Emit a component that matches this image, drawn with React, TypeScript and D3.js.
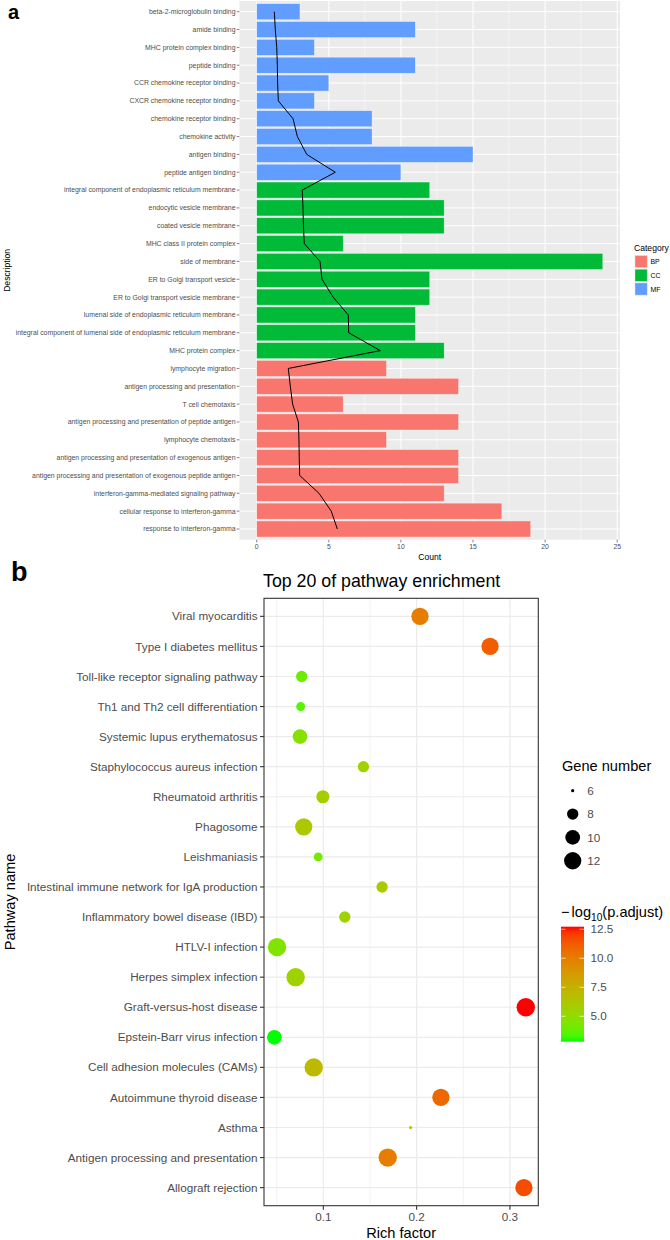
import React from 'react';
import * as d3 from 'd3';

// ---------- Panel a data ----------
const goTerms = [
  'beta-2-microglobulin binding',
  'amide binding',
  'MHC protein complex binding',
  'peptide binding',
  'CCR chemokine receptor binding',
  'CXCR chemokine receptor binding',
  'chemokine receptor binding',
  'chemokine activity',
  'antigen binding',
  'peptide antigen binding',
  'integral component of endoplasmic reticulum membrane',
  'endocytic vesicle membrane',
  'coated vesicle membrane',
  'MHC class II protein complex',
  'side of membrane',
  'ER to Golgi transport vesicle',
  'ER to Golgi transport vesicle membrane',
  'lumenal side of endoplasmic reticulum membrane',
  'integral component of lumenal side of endoplasmic reticulum membrane',
  'MHC protein complex',
  'lymphocyte migration',
  'antigen processing and presentation',
  'T cell chemotaxis',
  'antigen processing and presentation of peptide antigen',
  'lymphocyte chemotaxis',
  'antigen processing and presentation of exogenous antigen',
  'antigen processing and presentation of exogenous peptide antigen',
  'interferon-gamma-mediated signaling pathway',
  'cellular response to interferon-gamma',
  'response to interferon-gamma',
];
const goCategory = [
  'MF', 'MF', 'MF', 'MF', 'MF', 'MF', 'MF', 'MF', 'MF', 'MF',
  'CC', 'CC', 'CC', 'CC', 'CC', 'CC', 'CC', 'CC', 'CC', 'CC',
  'BP', 'BP', 'BP', 'BP', 'BP', 'BP', 'BP', 'BP', 'BP', 'BP',
];
const goCount = [3, 11, 4, 11, 5, 4, 8, 8, 15, 10, 12, 13, 13, 6, 24, 12, 12, 11, 11, 13, 9, 14, 6, 14, 9, 14, 14, 13, 17, 19];
const goTrend = [1.22, 1.29, 1.39, 1.43, 1.45, 1.5, 2.52, 2.82, 3.47, 5.45, 3.16, 3.21, 3.24, 3.3, 4.39, 4.53, 5.3, 6.35, 6.38, 8.57, 2.19, 2.33, 2.49, 2.89, 2.93, 2.95, 2.98, 4.32, 5.17, 5.59];
const countTicks = [0, 5, 10, 15, 20, 25];
const countMinor = [2.5, 7.5, 12.5, 17.5, 22.5];
const categoryLevels = ['BP', 'CC', 'MF'];
const categoryColors = ['#F8766D', '#00BA38', '#619CFF'];

// ---------- Panel b data ----------
const pathways = [
  'Viral myocarditis',
  'Type I diabetes mellitus',
  'Toll-like receptor signaling pathway',
  'Th1 and Th2 cell differentiation',
  'Systemic lupus erythematosus',
  'Staphylococcus aureus infection',
  'Rheumatoid arthritis',
  'Phagosome',
  'Leishmaniasis',
  'Intestinal immune network for IgA production',
  'Inflammatory bowel disease (IBD)',
  'HTLV-I infection',
  'Herpes simplex infection',
  'Graft-versus-host disease',
  'Epstein-Barr virus infection',
  'Cell adhesion molecules (CAMs)',
  'Autoimmune thyroid disease',
  'Asthma',
  'Antigen processing and presentation',
  'Allograft rejection',
];
const richFactor = [0.2036, 0.2787, 0.0768, 0.0757, 0.075, 0.143, 0.0995, 0.079, 0.0945, 0.163, 0.123, 0.0504, 0.0703, 0.317, 0.0475, 0.0897, 0.226, 0.1935, 0.169, 0.315];
const geneNumber = [12, 12, 8, 7, 10, 8, 9, 12, 7, 8, 8, 13, 13, 13, 10, 13, 12, 6, 13, 12];
const negLogPAdj = [10.0, 11.2, 4.0, 3.5, 4.7, 5.6, 5.8, 6.2, 4.2, 6.0, 5.5, 4.5, 5.6, 12.72, 2.81, 7.0, 10.8, 5.8, 10.0, 11.7];
const richTicks = [0.1, 0.2, 0.3];
const richMinor = [0.05, 0.15, 0.25];
const geneLegend = [6, 8, 10, 12];
const colorTicks = [5, 7.5, 10, 12.5];

const FONT = "'Liberation Sans', Arial, Helvetica, sans-serif";
const AXIS_TXT = '#4D4D4D';

export default function App() {
  // ----- Panel a scales -----
  const xA = d3.scaleLinear().domain([-1.2, 25.2]).range([239.4, 620.1]);
  const yA = d3.scalePoint<string>().domain(goTerms).range([1, 539.7]).padding(0.6);
  const stepA = yA.step();
  const barH = stepA * 0.9;
  const catColor = d3.scaleOrdinal<string, string>().domain(categoryLevels).range(categoryColors);
  const trendLine = d3
    .line<number>()
    .x((d) => xA(d))
    .y((_, i) => yA(goTerms[i]) as number);

  // ----- Panel b scales -----
  const xB = d3.scaleLinear().domain([0.0364, 0.3304]).range([264, 538.3]);
  const yB = d3.scalePoint<string>().domain(pathways).range([598.3, 1205.7]).padding(0.6);
  const pDomain: [number, number] = [2.81, 12.72];
  const colorB = d3
    .scaleLinear<string>()
    .domain(pDomain)
    .range(['#00FF00', '#FF0000'])
    .interpolate(d3.interpolateLab);
  const sizeT = d3.scaleLinear().domain([6, 13]).range([0, 1]).clamp(true);
  const radiusFromT = d3.scaleLinear().domain([0, 1]).range([1.6, 9.2]);
  const rOf = (g: number) => radiusFromT(Math.sqrt(sizeT(g)));
  const yC = d3.scaleLinear().domain(pDomain).range([1041.7, 926.7]);
  const gradStops = d3.range(0, 1.0001, 0.05);

  const panelBLeft = xB.range()[0];
  const panelBRight = xB.range()[1];
  const panelBTop = yB.range()[0];
  const panelBBottom = yB.range()[1];

  return (
    <svg
      width={670}
      height={1240}
      style={{ position: 'absolute', left: 0, top: 0, background: '#fff' }}
      fontFamily={FONT}
    >
      <defs>
        <linearGradient id="cbar" x1="0" y1="1" x2="0" y2="0">
          {gradStops.map((t) => (
            <stop
              key={t}
              offset={`${t * 100}%`}
              stopColor={colorB(pDomain[0] + t * (pDomain[1] - pDomain[0]))}
            />
          ))}
        </linearGradient>
      </defs>
      <rect x={0} y={0} width={670} height={1240} fill="#fff" />

      {/* ================= Panel a ================= */}
      <text x={8} y={18.8} fontSize={20} fontWeight="bold" fill="#000">a</text>
      <rect x={239.4} y={1} width={620.1 - 239.4} height={539.7 - 1} fill="#EBEBEB" />
      {countMinor.map((v) => (
        <line key={'mn' + v} x1={xA(v)} x2={xA(v)} y1={1} y2={539.7} stroke="#fff" strokeWidth={0.5} />
      ))}
      {countTicks.map((v) => (
        <line key={'mj' + v} x1={xA(v)} x2={xA(v)} y1={1} y2={539.7} stroke="#fff" strokeWidth={1} />
      ))}
      {goTerms.map((t) => (
        <line key={'hg' + t} x1={239.4} x2={620.1} y1={yA(t)} y2={yA(t)} stroke="#fff" strokeWidth={1} />
      ))}
      {goTerms.map((t, i) => (
        <rect
          key={'bar' + t}
          x={xA(0)}
          y={(yA(t) as number) - barH / 2}
          width={xA(goCount[i]) - xA(0)}
          height={barH}
          fill={catColor(goCategory[i])}
          stroke="#fff"
          strokeOpacity={0.6}
          strokeWidth={0.6}
        />
      ))}
      <path d={trendLine(goTrend) || ''} fill="none" stroke="#000" strokeWidth={1} />
      {/* y axis */}
      {goTerms.map((t) => (
        <g key={'yl' + t}>
          <line x1={236.7} x2={239.4} y1={yA(t)} y2={yA(t)} stroke="#333" strokeWidth={0.6} />
          <text x={235.5} y={(yA(t) as number) + 2.4} fontSize={6.9} textAnchor="end" fill={AXIS_TXT}>
            {t}
          </text>
        </g>
      ))}
      {/* x axis */}
      {countTicks.map((v) => (
        <g key={'xt' + v}>
          <line x1={xA(v)} x2={xA(v)} y1={539.7} y2={542.4} stroke="#333" strokeWidth={0.6} />
          <text x={xA(v)} y={549} fontSize={6.9} textAnchor="middle" fill={AXIS_TXT}>
            {v}
          </text>
        </g>
      ))}
      <text x={(239.4 + 620.1) / 2} y={559.5} fontSize={8.6} textAnchor="middle" fill="#000">
        Count
      </text>
      <text
        transform={`translate(9.5, ${(1 + 539.7) / 2}) rotate(-90)`}
        fontSize={8.6}
        textAnchor="middle"
        fill="#000"
      >
        Description
      </text>
      {/* legend a */}
      <text x={634} y={251} fontSize={8.6} fill="#000">Category</text>
      {categoryLevels.map((c, i) => (
        <g key={'lg' + c}>
          <rect x={634.5} y={255 + i * 13.7} width={13.2} height={13.2} fill="#EBEBEB" />
          <rect
            x={635}
            y={255.5 + i * 13.7}
            width={12.2}
            height={12.2}
            fill={catColor(c)}
            stroke="#fff"
            strokeOpacity={0.6}
            strokeWidth={0.6}
          />
          <text x={650.5} y={264.2 + i * 13.7} fontSize={6.9} fill="#000">
            {c}
          </text>
        </g>
      ))}

      {/* ================= Panel b ================= */}
      <text x={11} y={581} fontSize={27} fontWeight="bold" fill="#000">b</text>
      <text x={263} y={586.5} fontSize={17.8} fill="#000">Top 20 of pathway enrichment</text>
      <rect
        x={panelBLeft}
        y={panelBTop}
        width={panelBRight - panelBLeft}
        height={panelBBottom - panelBTop}
        fill="#fff"
      />
      {richMinor.map((v) => (
        <line key={'bmn' + v} x1={xB(v)} x2={xB(v)} y1={panelBTop} y2={panelBBottom} stroke="#EBEBEB" strokeWidth={0.6} />
      ))}
      {richTicks.map((v) => (
        <line key={'bmj' + v} x1={xB(v)} x2={xB(v)} y1={panelBTop} y2={panelBBottom} stroke="#EBEBEB" strokeWidth={1.2} />
      ))}
      {pathways.map((p) => (
        <line key={'bh' + p} x1={panelBLeft} x2={panelBRight} y1={yB(p)} y2={yB(p)} stroke="#EBEBEB" strokeWidth={1.2} />
      ))}
      {pathways.map((p, i) => (
        <circle
          key={'pt' + p}
          cx={xB(richFactor[i])}
          cy={yB(p)}
          r={rOf(geneNumber[i])}
          fill={colorB(negLogPAdj[i])}
        />
      ))}
      <rect
        x={panelBLeft}
        y={panelBTop}
        width={panelBRight - panelBLeft}
        height={panelBBottom - panelBTop}
        fill="none"
        stroke="#333"
        strokeWidth={1.1}
      />
      {pathways.map((p) => (
        <g key={'byl' + p}>
          <line x1={panelBLeft - 4} x2={panelBLeft} y1={yB(p)} y2={yB(p)} stroke="#333" strokeWidth={1.1} />
          <text x={panelBLeft - 6.5} y={(yB(p) as number) + 4.1} fontSize={11.7} textAnchor="end" fill={AXIS_TXT}>
            {p}
          </text>
        </g>
      ))}
      {richTicks.map((v) => (
        <g key={'bxt' + v}>
          <line x1={xB(v)} x2={xB(v)} y1={panelBBottom} y2={panelBBottom + 4} stroke="#333" strokeWidth={1.1} />
          <text x={xB(v)} y={1221} fontSize={11.7} textAnchor="middle" fill={AXIS_TXT}>
            {d3.format('.1f')(v)}
          </text>
        </g>
      ))}
      <text x={(panelBLeft + panelBRight) / 2} y={1238} fontSize={14.6} textAnchor="middle" fill="#000">
        Rich factor
      </text>
      <text
        transform={`translate(15, ${(panelBTop + panelBBottom) / 2}) rotate(-90)`}
        fontSize={14.6}
        textAnchor="middle"
        fill="#000"
      >
        Pathway name
      </text>

      {/* size legend */}
      <text x={562} y={771} fontSize={14.6} fill="#000">Gene number</text>
      {geneLegend.map((g, i) => (
        <g key={'gl' + g}>
          <circle cx={572.7} cy={790.7 + i * 23.35} r={rOf(g)} fill="#000" />
          <text x={587.3} y={790.7 + i * 23.35 + 4.1} fontSize={11.7} fill={AXIS_TXT}>
            {g}
          </text>
        </g>
      ))}

      {/* color legend */}
      <text x={561} y={916.5} fontSize={14.6} fill="#000">
        <tspan>{'\u2212'}</tspan>
        <tspan dx={2}>log</tspan>
        <tspan fontSize={10.2} dy={4}>10</tspan>
        <tspan dy={-4}>(p.adjust)</tspan>
      </text>
      <rect x={561} y={yC(pDomain[1])} width={23} height={yC(pDomain[0]) - yC(pDomain[1])} fill="url(#cbar)" />
      {colorTicks.map((v) => (
        <g key={'ct' + v}>
          <line x1={561} x2={565.6} y1={yC(v)} y2={yC(v)} stroke="#fff" strokeOpacity={0.8} strokeWidth={0.8} />
          <line x1={579.4} x2={584} y1={yC(v)} y2={yC(v)} stroke="#fff" strokeOpacity={0.8} strokeWidth={0.8} />
          <text x={590.5} y={yC(v) + 4.1} fontSize={11.7} fill={AXIS_TXT}>
            {d3.format('.1f')(v)}
          </text>
        </g>
      ))}
    </svg>
  );
}
